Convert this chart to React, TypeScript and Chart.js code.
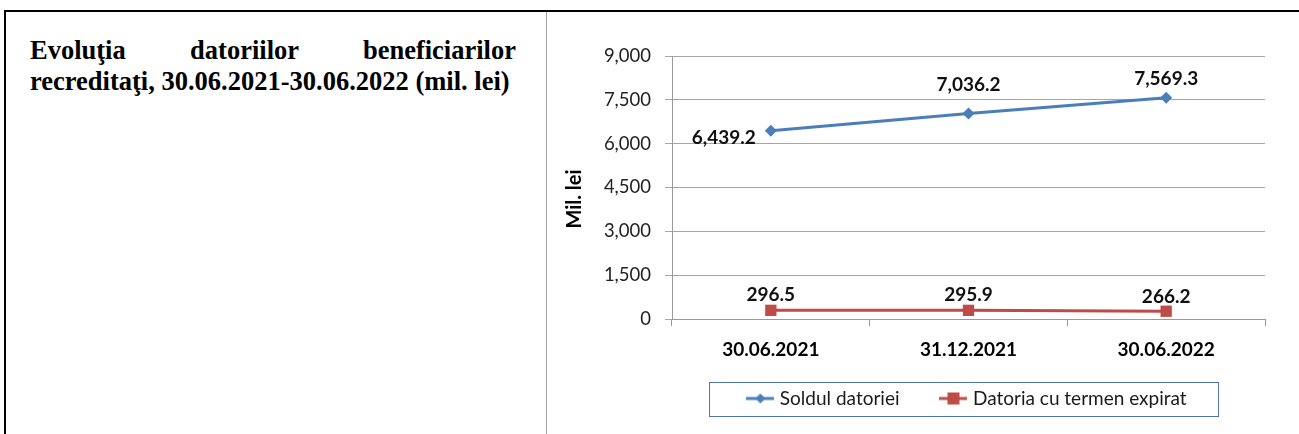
import React, { useEffect, useRef } from 'react';
import { Chart, registerables } from 'chart.js';

Chart.register(...registerables);

const categories = ['30.06.2021', '31.12.2021', '30.06.2022'];
const soldulDatoriei = [6439.2, 7036.2, 7569.3];
const datoriaExpirata = [296.5, 295.9, 266.2];
const yTickValues = [0, 1500, 3000, 4500, 6000, 7500, 9000];
const seriesNames = ['Soldul datoriei', 'Datoria cu termen expirat'];
const yAxisTitle = 'Mil. lei';
const titleLine1 = 'Evoluţia datoriilor beneficiarilor';
const titleLine2 = 'recreditaţi, 30.06.2021-30.06.2022 (mil. lei)';

// label placement offsets (style only)
const labelOffsets = [
  [[-47, 7], [0, -29], [0, -19]],
  [[0, -15], [0, -15], [0, -14]],
];

const BLUE = '#4A7EBB';
const RED = '#BE4B48';
const FONT = 'Lato, "Noto Sans", sans-serif';

function makeLegendSymbol(color: string, kind: 'diamond' | 'square') {
  const c = document.createElement('canvas');
  c.width = 28;
  c.height = 14;
  const ctx = c.getContext('2d')!;
  ctx.strokeStyle = color;
  ctx.lineWidth = 3;
  ctx.beginPath();
  ctx.moveTo(0, 7);
  ctx.lineTo(28, 7);
  ctx.stroke();
  ctx.fillStyle = color;
  if (kind === 'diamond') {
    ctx.beginPath();
    ctx.moveTo(14, 2);
    ctx.lineTo(19, 7);
    ctx.lineTo(14, 12);
    ctx.lineTo(9, 7);
    ctx.closePath();
    ctx.fill();
  } else {
    ctx.fillRect(8, 1, 12, 12);
  }
  return c;
}

const fmt = (v: number) =>
  v.toLocaleString('en-US', { minimumFractionDigits: 1, maximumFractionDigits: 1 });

export default function App() {
  const ref = useRef<HTMLCanvasElement>(null);

  useEffect(() => {
    if (!ref.current) return;
    const symbols = [makeLegendSymbol(BLUE, 'diamond'), makeLegendSymbol(RED, 'square')];

    const dataLabels = {
      id: 'dataLabels',
      afterDatasetsDraw(chart: any) {
        const ctx = chart.ctx;
        ctx.save();
        ctx.font = `bold 19px ${FONT}`;
        ctx.fillStyle = '#111';
        ctx.textAlign = 'center';
        ctx.textBaseline = 'middle';
        chart.data.datasets.forEach((ds: any, di: number) => {
          const meta = chart.getDatasetMeta(di);
          meta.data.forEach((pt: any, i: number) => {
            const [dx, dy] = labelOffsets[di][i];
            ctx.fillText(fmt(ds.data[i]), pt.x + dx, pt.y + dy);
          });
        });
        ctx.restore();
      },
    };

    const extendXAxis = {
      id: 'extendXAxis',
      afterLayout(chart: any) {
        const x = chart.scales.x;
        x.bottom = x.top + 50;
      },
    };

    const legendBox = {
      id: 'legendBox',
      afterDraw(chart: any) {
        const hb = chart.legend?.legendHitBoxes;
        if (!hb || !hb.length) return;
        const first = hb[0];
        const last = hb[hb.length - 1];
        const cy = first.top + first.height / 2;
        const ctx = chart.ctx;
        ctx.save();
        ctx.strokeStyle = '#4F74AE';
        ctx.lineWidth = 1;
        const l = Math.round(first.left - 41) + 0.5;
        const r = Math.round(last.left + last.width + 31) + 0.5;
        const t = Math.round(cy - 17) + 0.5;
        const b = Math.round(cy + 17) + 0.5;
        ctx.strokeRect(l, t, r - l, b - t);
        ctx.restore();
      },
    };

    const yTitle = {
      id: 'yTitle',
      afterDraw(chart: any) {
        const ctx = chart.ctx;
        ctx.save();
        ctx.font = `bold 20px ${FONT}`;
        ctx.fillStyle = '#000';
        ctx.textAlign = 'center';
        ctx.textBaseline = 'middle';
        ctx.translate(28, 187);
        ctx.rotate(-Math.PI / 2);
        ctx.fillText(yAxisTitle, 0, 0);
        ctx.restore();
      },
    };

    const chart = new Chart(ref.current, {
      type: 'line',
      data: {
        labels: categories,
        datasets: [
          {
            label: seriesNames[0],
            data: soldulDatoriei,
            borderColor: BLUE,
            backgroundColor: BLUE,
            borderWidth: 3,
            pointStyle: 'rectRot',
            pointRadius: 6,
            pointBorderWidth: 0,
            tension: 0,
          },
          {
            label: seriesNames[1],
            data: datoriaExpirata,
            borderColor: RED,
            backgroundColor: RED,
            borderWidth: 3,
            pointStyle: 'rect',
            pointRadius: 8,
            pointBorderWidth: 0,
            tension: 0,
          },
        ],
      },
      options: {
        animation: false,
        responsive: false,
        layout: { padding: { left: 0, right: 27, top: 44, bottom: 16 } },
        plugins: {
          tooltip: { enabled: false },
          legend: {
            position: 'bottom',
            fullSize: false,
            labels: {
              usePointStyle: true,
              pointStyleWidth: 20,
              boxHeight: 14,
              padding: 44,
              color: '#1a1a1a',
              font: { family: FONT, size: 19 },
              generateLabels: (ch: any) =>
                ch.data.datasets.map((ds: any, i: number) => ({
                  text: ds.label,
                  pointStyle: symbols[i],
                  fillStyle: ds.backgroundColor,
                  strokeStyle: ds.borderColor,
                  lineWidth: 0,
                  hidden: false,
                  datasetIndex: i,
                  fontColor: '#1a1a1a',
                })),
            },
          },
        },
        scales: {
          x: {
            offset: true,
            afterFit: (s: any) => {
              s.height = 26;
            },
            grid: {
              offset: true,
              drawOnChartArea: false,
              drawTicks: true,
              tickLength: 7,
              color: '#9a9a9a',
            },
            border: { display: true, color: '#9a9a9a' },
            ticks: {
              padding: 12,
              color: '#000',
              font: { family: FONT, size: 19, weight: 'bold' },
            },
          },
          y: {
            min: 0,
            max: 9000,
            afterFit: (s: any) => {
              s.width = 125;
            },
            afterBuildTicks: (s: any) => {
              s.ticks = yTickValues.map((v) => ({ value: v }));
            },
            grid: { color: '#a6a6a6', tickLength: 7, lineWidth: 1 },
            border: { display: true, color: '#9a9a9a' },
            ticks: {
              padding: 14,
              color: '#222',
              font: { family: FONT, size: 18.5 },
              callback: (v: any) => Number(v).toLocaleString('en-US'),
            },
          },
        },
      },
      plugins: [dataLabels, extendXAxis, legendBox, yTitle],
    } as any);

    return () => chart.destroy();
  }, []);

  return (
    <div
      style={{
        position: 'fixed',
        left: 0,
        top: 0,
        width: 1299,
        height: 434,
        background: '#fff',
        overflow: 'hidden',
      }}
    >
      <div style={{ position: 'absolute', left: 4, top: 10, width: 1295, height: 2, background: '#000' }} />
      <div style={{ position: 'absolute', left: 4, top: 10, width: 2, height: 424, background: '#000' }} />
      <div style={{ position: 'absolute', left: 546, top: 12, width: 1, height: 422, background: '#a0a0a0' }} />
      <div
        style={{
          position: 'absolute',
          left: 30,
          top: 35,
          width: 486,
          fontFamily: '"Liberation Serif", "Times New Roman", serif',
          fontWeight: 'bold',
          fontSize: 26.5,
          lineHeight: '31px',
          color: '#000',
        }}
      >
        <div style={{ textAlign: 'justify', textAlignLast: 'justify' }}>{titleLine1}</div>
        <div style={{ whiteSpace: 'nowrap' }}>{titleLine2}</div>
      </div>
      <canvas
        ref={ref}
        width={745}
        height={422}
        style={{ position: 'absolute', left: 547, top: 12, width: 745, height: 422 }}
      />
    </div>
  );
}
